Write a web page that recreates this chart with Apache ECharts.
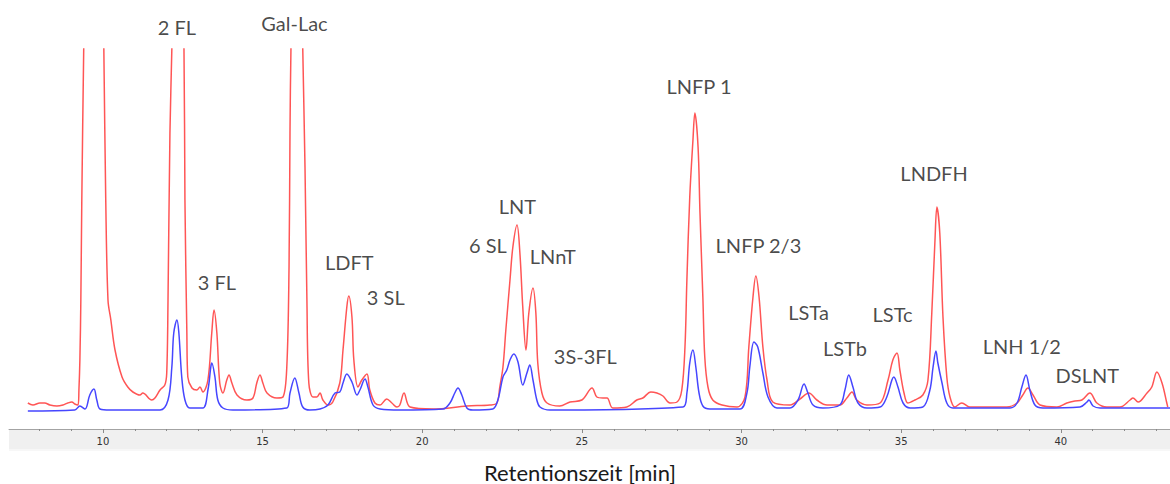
<!DOCTYPE html>
<html><head><meta charset="utf-8">
<script src="https://cdn.jsdelivr.net/npm/echarts@6/dist/echarts.min.js"></script>
<style>html,body{margin:0;padding:0;background:#fff}#c{width:1170px;height:484px}</style>
</head><body><div id="c"></div>
<script>
// Retention time [min], detector signal (arbitrary units)
const redTrace = [[7.65,26],[7.81,24],[8.03,26],[8.18,26],[8.34,24],[8.56,23],[8.75,24],[8.90,26],[9.03,27],[9.12,25],[9.22,24],[9.25,39],[9.28,69],[9.31,129],[9.34,229],[9.40,380],[9.47,520],[9.72,700],[9.97,520],[10.03,380],[10.09,229],[10.16,129],[10.25,109],[10.38,79],[10.60,52],[10.78,42],[10.94,37],[11.16,34],[11.25,36],[11.53,29],[11.63,31],[11.79,39],[11.94,44],[12.00,56],[12.04,129],[12.10,296],[12.16,380],[12.35,700],[12.54,380],[12.57,229],[12.63,96],[12.66,52],[12.79,41],[12.94,39],[13.04,42],[13.13,37],[13.29,49],[13.41,96],[13.48,119],[13.57,96],[13.66,46],[13.76,36],[13.88,49],[13.95,54],[14.04,46],[14.20,34],[14.51,29],[14.70,31],[14.82,46],[14.92,54],[15.01,46],[15.14,36],[15.45,31],[15.64,32],[15.76,62],[15.83,162],[15.86,296],[15.89,380],[16.08,700],[16.26,380],[16.33,262],[16.39,129],[16.45,46],[16.58,32],[16.70,32],[16.80,36],[16.89,29],[17.05,24],[17.20,27],[17.42,46],[17.52,79],[17.64,122],[17.70,133],[17.80,112],[17.86,69],[17.99,42],[18.11,49],[18.27,55],[18.36,39],[18.52,26],[18.68,24],[18.89,30],[19.05,26],[19.21,22],[19.30,24],[19.43,36],[19.62,22],[20.34,20],[21.40,23],[22.12,24],[22.34,26],[22.43,42],[22.53,62],[22.62,99],[22.75,149],[22.84,182],[22.97,204],[23.06,176],[23.15,122],[23.25,79],[23.34,116],[23.47,141],[23.56,116],[23.62,66],[23.75,36],[23.91,26],[24.31,23],[24.63,27],[25.00,29],[25.32,41],[25.47,32],[25.66,31],[25.79,31],[25.97,21],[26.41,22],[26.72,29],[26.91,31],[27.16,37],[27.35,36],[27.54,33],[27.76,26],[27.98,27],[28.13,39],[28.23,82],[28.29,149],[28.38,232],[28.48,289],[28.54,316],[28.64,282],[28.70,216],[28.79,132],[28.85,72],[28.95,42],[29.10,29],[29.39,24],[29.86,22],[30.11,32],[30.23,82],[30.36,132],[30.45,153],[30.55,132],[30.67,82],[30.80,49],[30.98,27],[31.52,24],[31.83,30],[32.11,36],[32.36,29],[32.68,24],[33.08,24],[33.30,31],[33.46,37],[33.61,29],[33.93,24],[34.34,26],[34.59,49],[34.74,69],[34.87,76],[34.96,59],[35.09,36],[35.21,26],[35.43,29],[35.68,34],[35.84,49],[35.96,116],[36.06,189],[36.12,222],[36.21,196],[36.31,112],[36.43,52],[36.53,32],[36.68,22],[36.90,26],[37.15,22],[37.69,22],[38.31,22],[38.63,26],[38.81,34],[38.97,41],[39.13,34],[39.35,24],[39.88,22],[40.19,26],[40.44,28],[40.66,29],[40.91,36],[41.13,26],[41.44,22],[41.85,22],[42.17,29],[42.26,31],[42.42,27],[42.70,36],[42.85,42],[43.01,57],[43.17,46],[43.32,26],[43.35,22]];

const blueTrace = [[7.65,18],[9.12,19],[9.28,23],[9.44,20],[9.59,34],[9.72,40],[9.81,29],[9.91,20],[10.22,19],[11.79,19],[12.04,29],[12.16,62],[12.22,96],[12.32,109],[12.38,96],[12.47,52],[12.57,29],[12.72,21],[13.13,21],[13.29,39],[13.38,62],[13.41,66],[13.51,52],[13.60,29],[13.76,21],[14.07,19],[15.76,21],[15.86,36],[16.01,51],[16.14,36],[16.26,22],[16.48,19],[16.80,20],[17.05,24],[17.27,36],[17.42,37],[17.52,46],[17.64,55],[17.80,47],[17.96,34],[18.05,39],[18.21,50],[18.30,42],[18.46,24],[18.68,20],[19.30,19],[20.65,20],[20.87,26],[21.02,36],[21.12,41],[21.24,34],[21.40,21],[21.59,19],[22.21,20],[22.37,29],[22.53,52],[22.65,59],[22.75,69],[22.87,75],[23.00,67],[23.15,44],[23.28,56],[23.37,64],[23.47,49],[23.59,29],[23.69,22],[24.00,19],[28.17,22],[28.29,36],[28.38,66],[28.48,79],[28.57,62],[28.67,36],[28.79,23],[29.01,20],[29.95,20],[30.17,36],[30.26,62],[30.39,87],[30.51,82],[30.67,56],[30.83,32],[31.11,21],[31.52,21],[31.77,29],[31.96,45],[32.08,36],[32.24,24],[32.55,21],[33.08,24],[33.24,39],[33.36,54],[33.49,42],[33.65,26],[33.93,21],[34.34,22],[34.55,32],[34.71,49],[34.77,52],[34.90,42],[35.06,26],[35.28,21],[35.68,22],[35.90,39],[36.00,62],[36.09,78],[36.15,66],[36.28,46],[36.43,26],[36.62,21],[38.41,21],[38.63,26],[38.78,42],[38.91,54],[39.03,39],[39.19,24],[39.44,21],[40.60,22],[40.82,27],[40.88,29],[41.01,23],[41.23,21],[43.42,21]];

const peakNames = ['2 FL','Gal-Lac','3 FL','LDFT','3 SL','LNT','6 SL','LNnT','3S-3FL','LNFP 1','LNFP 2/3','LSTa','LSTb','LSTc','LNDFH','LNH 1/2','DSLNT'];
const peakLabelAt = [[12.32,402],[16.00,406],[13.57,147],[17.72,167],[18.86,132],[22.98,223],[22.06,184],[24.09,173],[25.11,73],[28.67,343],[30.53,184],[32.10,117],[33.24,81],[34.73,115],[36.03,256],[38.78,83],[40.83,54]];

const majorTicks = [10,15,20,25,30,35,40];
const minorTicks = [8,9,11,12,13,14,16,17,18,19,21,22,23,24,26,27,28,29,31,32,33,34,36,37,38,39,41,42,43];
const xTitle = 'Retentionszeit [min]';

const FONT = 'Lato, "Open Sans", sans-serif';
const chart = echarts.init(document.getElementById('c'), null, {renderer: 'svg'});
const xMin = 7.06, xMax = 43.42;
chart.setOption({
  animation: false,
  backgroundColor: '#ffffff',
  grid: {left: 9, right: 0, top: 49, bottom: 55, containLabel: false},
  xAxis: [
    {type: 'value', min: xMin, max: xMax, position: 'bottom',
     axisLine: {show: true, onZero: false, lineStyle: {color: '#a3a3a3', width: 1}},
     axisTick: {show: true, customValues: majorTicks, length: 4, lineStyle: {color: '#8a8a8a'}},
     axisLabel: {customValues: majorTicks, fontSize: 10, color: '#333', margin: 7, fontFamily: 'DejaVu Sans'},
     splitLine: {show: false}},
    {type: 'value', min: xMin, max: xMax, position: 'bottom',
     axisLine: {show: false, onZero: false},
     axisTick: {show: true, customValues: minorTicks, length: 2, lineStyle: {color: '#8a8a8a'}},
     axisLabel: {show: false}, splitLine: {show: false}}
  ],
  yAxis: {type: 'value', min: 0, max: 380, show: false, splitLine: {show: false}},
  graphic: [
    {type: 'rect', left: 9, top: 429, z: -100, silent: true, shape: {width: 1161, height: 20}, style: {fill: '#f0f0f0'}},
    {type: 'rect', left: 9, top: 449, z: -100, silent: true, shape: {width: 1161, height: 2}, style: {fill: '#f7f7f7'}},
    {type: 'text', x: 580, y: 472, silent: true,
     style: {text: xTitle, fill: '#1a1a1a', font: '22px ' + FONT, textAlign: 'center', textVerticalAlign: 'middle'}}
  ],
  series: [
    {type: 'line', data: redTrace, showSymbol: false, smooth: 0.35, clip: true,
     lineStyle: {color: 'rgb(255,85,85)', width: 1.5}, z: 2},
    {type: 'line', data: blueTrace, showSymbol: false, smooth: 0.35, clip: true,
     lineStyle: {color: 'rgb(70,70,255)', width: 1.5}, z: 3},
    {type: 'scatter', clip: false, silent: true, symbolSize: 1, itemStyle: {color: 'rgba(0,0,0,0)'},
     data: peakNames.map((n, i) => ({name: n, value: peakLabelAt[i]})),
     label: {show: true, position: 'inside', formatter: '{b}', color: '#1a1a1a', fontSize: 20, fontFamily: FONT},
     z: 5}
  ]
});
</script></body></html>
